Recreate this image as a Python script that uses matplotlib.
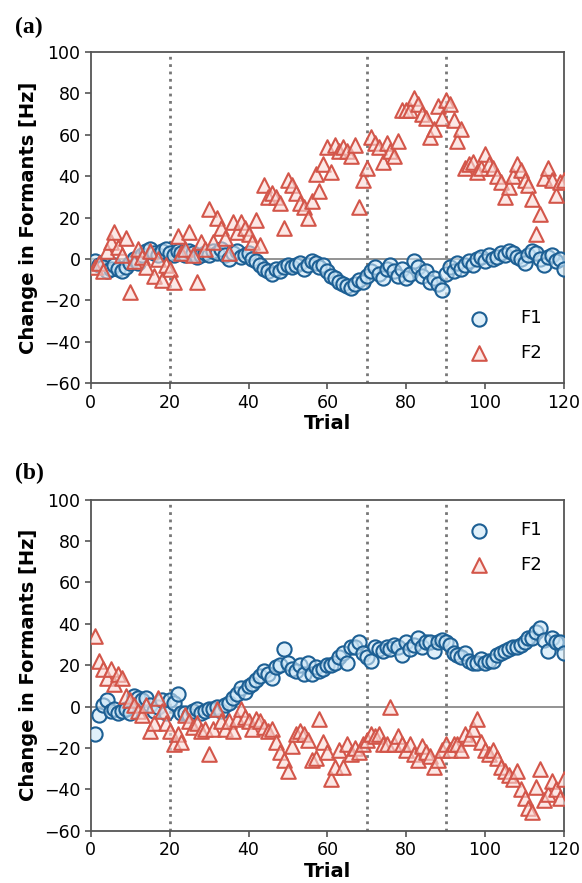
import numpy as np
import matplotlib
matplotlib.use("Agg")
import matplotlib.pyplot as plt

trials = list(range(1, 121))

a_f1 = [-1, -3, -4, -6, -5, -3, -5, -6, -4, -2,
        0, -2, 2, 4, 5, 3, 2, 4, 5, 3,
        2, 4, 3, 2, 4, 3, 1, 2, 3, 2,
        4, 3, 5, 2, 0, 3, 4, 1, 2, 3,
        0, -1, -3, -5, -6, -7, -5, -6, -4, -3,
        -4, -3, -2, -5, -3, -1, -2, -4, -3, -6,
        -8, -9, -11, -12, -13, -14, -12, -10, -11, -8,
        -6, -4, -7, -9, -5, -3, -6, -8, -5, -9,
        -7, -1, -4, -8, -6, -11, -9, -12, -15, -7,
        -4, -6, -2, -5, -3, -1, -3, 0, 1, -1,
        2, 0, 1, 3, 2, 4, 3, 1, 0, -2,
        2, 4, 3, 0, -3, 1, 2, -1, 0, -5]

a_f2 = [-4, -2, -6, 4, 8, 13, 6, 2, 10, -16,
        -1, 5, 1, -4, 4, -8, 0, -10, -3, -5,
        -11, 11, 3, 5, 13, 2, -11, 8, 5, 24,
        8, 20, 15, 10, 3, 18, 13, 18, 15, 12,
        8, 19, 7, 36, 30, 32, 30, 27, 15, 38,
        36, 32, 27, 25, 20, 28, 41, 33, 46, 54,
        42, 55, 52, 54, 52, 50, 55, 25, 38, 44,
        59, 56, 54, 47, 56, 52, 50, 57, 72, 72,
        72, 78, 75, 70, 68, 59, 63, 74, 68, 77,
        75, 67, 57, 63, 44, 46, 47, 42, 44, 51,
        46, 44, 40, 37, 30, 35, 40, 46, 43, 38,
        36, 29, 12, 22, 39, 44, 38, 31, 37, 38]

b_f1 = [-13, -4, 1, 3, -2, -1, -3, -2, -1, -3,
        5, 4, 3, 4, 1, -2, 0, 3, -3, 3,
        2, 6, -3, -3, -4, -2, -1, -3, -2, -1,
        -1, 0, -2, 1, 2, 4, 6, 9, 7, 10,
        11, 13, 15, 17, 16, 14, 19, 20, 28, 21,
        18, 17, 20, 16, 21, 16, 19, 17, 18, 20,
        20, 21, 24, 26, 21, 29, 29, 31, 26, 24,
        22, 29, 28, 27, 29, 28, 30, 29, 25, 31,
        28, 30, 33, 29, 31, 31, 27, 31, 32, 31,
        30, 26, 25, 24, 26, 22, 21, 21, 23, 21,
        22, 22, 25, 26, 27, 28, 29, 29, 30, 31,
        33, 33, 36, 38, 32, 27, 33, 31, 31, 26]

b_f2 = [34, 22, 18, 14, 18, 11, 16, 14, 5, 3,
        1, -2, -4, 1, -12, -8, 4, -2, -8, -12,
        -18, -13, -17, -4, -7, -10, -8, -12, -11, -23,
        -11, -1, -7, -11, -7, -12, -6, -1, -5, -7,
        -11, -6, -7, -10, -12, -11, -17, -22, -26, -31,
        -19, -13, -12, -13, -16, -26, -25, -6, -17, -22,
        -35, -29, -21, -29, -18, -23, -20, -22, -18, -16,
        -13, -14, -13, -18, -18, 0, -18, -14, -18, -21,
        -18, -23, -26, -19, -22, -24, -29, -26, -21, -18,
        -21, -18, -18, -21, -13, -15, -11, -6, -17, -21,
        -23, -21, -25, -29, -31, -33, -35, -31, -40, -44,
        -49, -51, -39, -30, -45, -42, -36, -40, -44, -35]

boundaries = [20, 70, 90]
xticks = [0, 20, 40, 60, 80, 100, 120]
yticks = [-60, -40, -20, 0, 20, 40, 60, 80, 100]

BLUE_E = "#1c5f94"
BLUE_F = (0.80, 0.90, 0.97, 0.6)
RED_E = "#d3564a"
RED_F = (0.98, 0.85, 0.84, 0.6)
SPINE = "#555555"

fig = plt.figure(figsize=(5.82, 8.83), dpi=100)
ax1 = fig.add_axes([0.156, 0.566, 0.813, 0.375])
ax2 = fig.add_axes([0.156, 0.0591, 0.813, 0.375])

for ax, f1, f2, loc in [(ax1, a_f1, a_f2, "lower right"), (ax2, b_f1, b_f2, "upper right")]:
    ax.axhline(0, color="#8a8a8a", lw=1.3, zorder=1)
    for b in boundaries:
        ax.axvline(b, color="#777777", lw=2, ls=":", zorder=1)
    ax.scatter(trials, f1, s=105, marker="o", facecolor=BLUE_F, edgecolor=BLUE_E,
               linewidth=1.5, label="F1", zorder=3)
    ax.scatter(trials, f2, s=110, marker="^", facecolor=RED_F, edgecolor=RED_E,
               linewidth=1.5, label="F2", zorder=4)
    ax.set_xlim(0, 120)
    ax.set_ylim(-60, 100)
    ax.set_xticks(xticks)
    ax.set_yticks(yticks)
    ax.tick_params(labelsize=12.5, length=4, width=1.2, color=SPINE)
    for s in ax.spines.values():
        s.set_color(SPINE)
        s.set_linewidth(1.3)
    ax.set_xlabel("Trial", fontsize=14, fontweight="bold", labelpad=2)
    ax.set_ylabel("Change in Formants [Hz]", fontsize=14, fontweight="bold", labelpad=4)
    ax.legend(loc=loc, frameon=False, fontsize=13, labelspacing=0.9,
              handletextpad=1.3, borderaxespad=0.8)

fig.text(0.026, 1 - 27 / 883, "(a)", family="Liberation Serif", weight="bold",
         fontsize=17, va="center", ha="left")
fig.text(0.026, 1 - 473 / 883, "(b)", family="Liberation Serif", weight="bold",
         fontsize=17, va="center", ha="left")

fig.savefig("out.png", dpi=100)
